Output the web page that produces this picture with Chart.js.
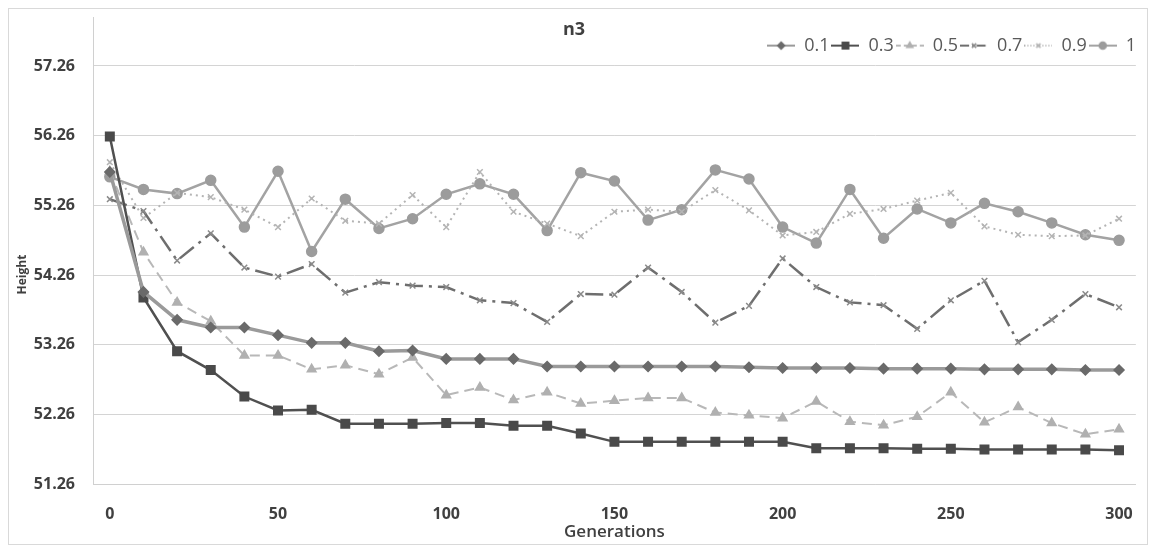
<!DOCTYPE html>
<html>
<head>
<meta charset="utf-8">
<script src="https://cdn.jsdelivr.net/npm/chart.js@4.4.1/dist/chart.umd.min.js"></script>
<style>
  html, body { margin: 0; padding: 0; background: #ffffff; }
  #wrap { width: 1153px; height: 548px; position: relative; }
</style>
</head>
<body>
<div id="wrap"><canvas id="c" width="1153" height="548"></canvas></div>
<script>
// ---- data ----
const generations = [0,10,20,30,40,50,60,70,80,90,100,110,120,130,140,150,160,170,180,190,200,210,220,230,240,250,260,270,280,290,300];
const seriesNames = ['0.1','0.3','0.5','0.7','0.9','1'];
const s01 = [55.74,54.02,53.62,53.51,53.51,53.40,53.29,53.29,53.17,53.18,53.06,53.06,53.06,52.95,52.95,52.95,52.95,52.95,52.95,52.94,52.93,52.93,52.93,52.92,52.92,52.92,52.91,52.91,52.91,52.90,52.90];
const s03 = [56.25,53.94,53.17,52.90,52.52,52.32,52.33,52.13,52.13,52.13,52.14,52.14,52.10,52.10,51.99,51.87,51.87,51.87,51.87,51.87,51.87,51.78,51.78,51.78,51.77,51.77,51.76,51.76,51.76,51.76,51.75];
const s05 = [55.75,54.59,53.87,53.60,53.11,53.11,52.91,52.97,52.84,53.08,52.54,52.65,52.47,52.58,52.42,52.46,52.50,52.50,52.29,52.25,52.21,52.45,52.16,52.11,52.23,52.58,52.15,52.37,52.14,51.98,52.05];
const s07 = [55.35,55.18,54.47,54.86,54.37,54.24,54.42,54.01,54.16,54.11,54.09,53.90,53.86,53.59,53.99,53.98,54.37,54.02,53.58,53.82,54.50,54.09,53.87,53.83,53.49,53.90,54.18,53.30,53.62,53.99,53.80];
const s09 = [55.88,55.08,55.44,55.38,55.20,54.95,55.36,55.04,55.00,55.41,54.95,55.74,55.17,55.00,54.82,55.17,55.20,55.17,55.48,55.19,54.83,54.88,55.14,55.21,55.33,55.44,54.96,54.84,54.82,54.83,55.07];
const s1  = [55.67,55.49,55.43,55.62,54.95,55.75,54.60,55.35,54.93,55.07,55.42,55.57,55.42,54.90,55.73,55.61,55.05,55.20,55.77,55.64,54.95,54.72,55.49,54.79,55.21,55.01,55.29,55.17,55.01,54.84,54.76];
const yTickValues = [51.26,52.26,53.26,54.26,55.26,56.26,57.26];
const xTickValues = [0,50,100,150,200,250,300];

// ---- styles ----
const FONT = "'Open Sans', 'Liberation Sans', sans-serif";
const TXT = '#404040';
const styles = [
  { line: '#9a9a9a', point: '#6a6a6a', width: 3.5, dash: [],            marker: 'rectRot',  radius: 5 },
  { line: '#505050', point: '#4a4a4a', width: 2.5, dash: [],            marker: 'rect',     radius: 6 },
  { line: '#b8b8b8', point: '#b0b0b0', width: 2,   dash: [10, 6],       marker: 'triangle', radius: 5 },
  { line: '#6e6e6e', point: '#8a8a8a', width: 2.5, dash: [18, 6, 3, 6], marker: 'crossRot', radius: 4 },
  { line: '#b4b4b4', point: '#b4b4b4', width: 2,   dash: [2, 4],        marker: 'crossRot', radius: 4 },
  { line: '#a3a3a3', point: '#9c9c9c', width: 2.5, dash: [],            marker: 'circle',   radius: 5 }
];
const values = [s01, s03, s05, s07, s09, s1];

function legendImage(st) {
  const c = document.createElement('canvas');
  c.width = 28; c.height = 12;
  const g = c.getContext('2d');
  g.strokeStyle = st.line; g.lineWidth = 2;
  g.setLineDash(st.dash.map(v => v * 0.5));
  g.beginPath(); g.moveTo(0, 6); g.lineTo(28, 6); g.stroke();
  g.setLineDash([]);
  g.fillStyle = st.point; g.strokeStyle = st.point; g.lineWidth = 1.5;
  Chart.helpers.drawPoint(g, { pointStyle: st.marker, radius: Math.max(3, st.radius - 1.5), borderWidth: 1.5 }, 14, 6);
  return c;
}

const borderPlugin = {
  id: 'frame',
  beforeDraw(chart) {
    const ctx = chart.ctx;
    ctx.save();
    ctx.fillStyle = '#ffffff';
    ctx.fillRect(0, 0, chart.width, chart.height);
    ctx.strokeStyle = '#d9d9d9';
    ctx.lineWidth = 1;
    ctx.strokeRect(8.5, 8.5, 1139, 536);
    const a = chart.chartArea;
    ctx.strokeStyle = '#d0d0d0';
    ctx.beginPath(); ctx.moveTo(Math.round(a.left) + 0.5, 17); ctx.lineTo(Math.round(a.left) + 0.5, a.top); ctx.stroke();
    ctx.restore();
  }
};

const datasets = values.map((vals, i) => {
  const st = styles[i];
  return {
    label: seriesNames[i],
    data: generations.map((g, j) => ({ x: g, y: vals[j] })),
    borderColor: st.line,
    borderWidth: st.width,
    borderDash: st.dash,
    pointStyle: st.marker,
    pointRadius: st.radius,
    pointBackgroundColor: st.point,
    pointBorderColor: st.point,
    pointBorderWidth: 1.5,
    tension: 0,
    fill: false
  };
});

const legendImgs = styles.map(legendImage);

new Chart(document.getElementById('c'), {
  type: 'line',
  data: { datasets },
  plugins: [borderPlugin],
  options: {
    responsive: false,
    animation: false,
    events: [],
    layout: { padding: { left: 10, right: 15, top: 0, bottom: 4 } },
    plugins: {
      tooltip: { enabled: false },
      title: {
        display: true, text: 'n3', color: TXT,
        font: { family: FONT, size: 18, weight: 'bold' },
        padding: { top: 19, bottom: -6 }
      },
      legend: {
        display: true, position: 'top', align: 'end',
        labels: {
          color: '#595959',
          font: { family: FONT, size: 18 },
          usePointStyle: true,
          pointStyleWidth: 28,
          padding: 2,
          generateLabels(chart) {
            return seriesNames.map((n, i) => ({
              text: n, datasetIndex: i, pointStyle: legendImgs[i],
              fillStyle: styles[i].point, strokeStyle: styles[i].line, lineWidth: 0, hidden: false,
              fontColor: '#595959'
            }));
          }
        }
      }
    },
    scales: {
      x: {
        type: 'linear', min: -5, max: 305,
        afterBuildTicks(s) { s.ticks = xTickValues.map(v => ({ value: v })); },
        grid: { display: false, drawTicks: false },
        border: { display: true, color: '#d0d0d0', width: 1 },
        ticks: { color: TXT, padding: 20, font: { family: FONT, size: 16, weight: 'bold' }, maxRotation: 0 },
        title: { display: true, text: 'Generations', color: TXT, font: { family: FONT, size: 17, weight: '600' }, padding: { top: -22, bottom: 2 } }
      },
      y: {
        type: 'linear', min: 51.26, max: 57.28,
        afterBuildTicks(s) { s.ticks = yTickValues.map(v => ({ value: v })); },
        afterFit(s) { s.width = 83; },
        grid: { color: '#d4d4d4', lineWidth: 1, drawTicks: false },
        border: { display: true, color: '#d0d0d0', width: 1 },
        ticks: { color: TXT, padding: 18, font: { family: FONT, size: 16, weight: 'bold' }, callback: v => Number(v).toFixed(2) },
        title: { display: true, text: 'Height', color: TXT, font: { family: FONT, size: 12, weight: 'bold' }, padding: { top: 5, bottom: 0 } }
      }
    }
  }
});
</script>
</body>
</html>
